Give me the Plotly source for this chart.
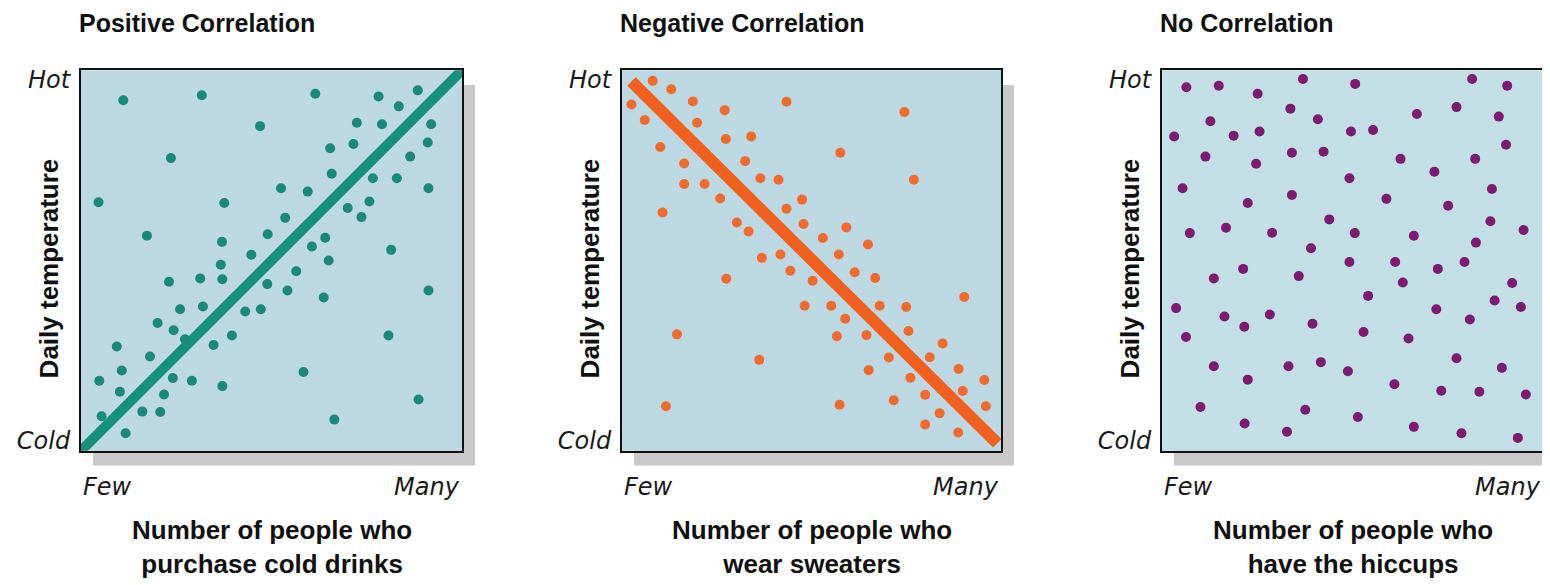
import plotly.graph_objects as go

# page is 1550x585; the html body has an 8px margin, so the figure is 8px smaller
OFF = 8
W, H = 1550 - OFF, 585 - OFF

# ---------------- data (0-100 scale on both axes) ----------------
pos_x = [11.1, 31.7, 61.5, 78.1, 88.4, 83.4, 47.0, 72.4, 79.0, 91.9, 71.5, 65.4, 91.0, 86.4,
         23.6, 65.8, 76.6, 82.9, 91.2, 52.5, 59.5, 4.6, 37.6, 70.0, 75.7, 73.6, 53.6, 17.3,
         49.0, 37.0, 64.1, 60.6, 81.4, 44.7, 65.0, 36.7, 56.5, 23.1, 31.3, 37.1, 48.9, 54.2,
         91.2, 63.7, 26.0, 32.0, 43.1, 47.2, 20.1, 24.3, 27.3, 39.6, 80.7, 34.8, 9.4, 18.1,
         10.7, 58.4, 4.8, 24.1, 29.1, 37.1, 10.2, 21.8, 88.6, 5.4, 16.1, 20.8, 66.5, 11.7]
pos_y = [92.1, 93.4, 93.8, 93.1, 94.7, 90.5, 85.3, 86.2, 85.8, 85.8, 80.6, 79.5, 81.0, 77.3,
         76.9, 72.8, 71.6, 71.6, 69.0, 69.0, 68.1, 65.3, 65.1, 63.8, 65.5, 61.4, 61.2, 56.5,
         56.9, 54.9, 56.0, 53.7, 52.8, 51.5, 50.0, 48.9, 47.2, 44.4, 45.3, 45.1, 43.8, 42.1,
         42.1, 40.3, 37.2, 37.9, 36.6, 37.2, 33.6, 31.7, 29.3, 30.3, 30.3, 27.8, 27.4, 24.8,
         21.1, 20.7, 18.4, 19.1, 18.4, 17.0, 15.5, 14.8, 13.5, 9.1, 10.3, 10.2, 8.2, 4.6]
pos_line_x = [0, 100]
pos_line_y = [0, 100]

neg_x = [8.1, 13.0, 2.5, 18.7, 27.1, 43.4, 6.0, 19.8, 74.5, 27.4, 34.1, 10.1, 57.6, 16.4,
         32.5, 36.5, 41.3, 77.0, 16.4, 21.8, 25.9, 47.5, 10.7, 43.4, 30.3, 33.4, 47.9, 59.2,
         53.0, 64.9, 36.9, 41.8, 57.2, 44.4, 61.4, 66.8, 27.5, 50.3, 90.3, 48.2, 55.2, 68.0,
         75.0, 58.9, 14.5, 56.7, 64.5, 75.6, 84.6, 70.4, 81.2, 36.2, 65.1, 88.8, 76.1, 95.6,
         89.9, 80.0, 71.7, 11.6, 57.4, 96.0, 83.8, 80.0, 88.7]
neg_y = [97.2, 95.0, 91.0, 91.8, 89.5, 91.7, 86.9, 86.2, 89.0, 81.9, 82.6, 79.8, 78.3, 75.5,
         76.1, 71.6, 71.2, 71.2, 70.1, 70.1, 66.3, 66.0, 62.6, 63.6, 60.0, 57.6, 59.6, 58.7,
         55.9, 54.2, 50.7, 51.6, 51.6, 47.3, 46.9, 45.4, 45.2, 44.7, 40.4, 38.1, 38.1, 38.1,
         37.8, 34.7, 30.6, 30.1, 30.4, 31.5, 28.2, 24.5, 24.6, 23.9, 21.2, 21.5, 19.2, 18.6,
         15.7, 14.7, 13.3, 11.7, 12.1, 11.7, 9.9, 6.9, 4.8]
neg_line_x = [2.5, 99]
neg_line_y = [97, 2]

none_x = [6.4, 14.9, 25.1, 37.0, 50.7, 81.4, 90.6, 33.7, 12.7, 40.9, 66.9, 77.3, 88.4, 3.2,
          18.8, 25.6, 49.6, 55.4, 90.3, 11.4, 34.1, 42.4, 62.6, 82.2, 24.7, 71.5, 49.2, 5.4,
          34.1, 86.6, 22.5, 58.9, 75.1, 43.9, 86.2, 7.3, 16.8, 28.9, 50.6, 66.1, 94.9, 82.4,
          39.1, 49.2, 61.2, 79.4, 21.3, 72.4, 13.6, 35.9, 63.2, 91.9, 54.1, 3.7, 16.4, 28.3,
          72.0, 87.3, 94.2, 21.6, 39.5, 80.8, 6.3, 52.9, 64.7, 77.3, 13.6, 33.2, 41.7, 48.8,
          89.2, 22.5, 61.0, 73.3, 83.3, 95.5, 10.1, 37.6, 51.4, 21.7, 32.8, 66.1, 78.6, 93.4]
none_y = [95.5, 95.9, 93.8, 97.7, 96.4, 97.7, 95.9, 89.9, 86.6, 87.1, 88.5, 90.3, 87.8, 82.6,
          82.8, 83.9, 83.9, 84.3, 80.4, 77.3, 78.3, 78.6, 76.7, 76.7, 75.4, 73.3, 71.6, 69.0,
          67.2, 68.8, 65.1, 66.2, 64.4, 60.8, 60.3, 57.2, 58.6, 57.3, 57.2, 56.5, 58.0, 54.7,
          53.2, 49.6, 49.6, 49.6, 47.8, 47.8, 45.3, 45.9, 44.2, 44.1, 40.7, 37.5, 35.3, 35.8,
          37.2, 39.5, 37.8, 32.6, 33.4, 34.5, 29.9, 31.2, 29.5, 24.3, 22.2, 22.2, 23.3, 20.9,
          21.8, 18.7, 17.5, 15.8, 15.5, 14.8, 11.5, 10.8, 8.9, 7.2, 5.0, 6.3, 4.6, 3.4]

titles = ["Positive Correlation", "Negative Correlation", "No Correlation"]
x_titles = ["Number of people who<br>purchase cold drinks",
            "Number of people who<br>wear sweaters",
            "Number of people who<br>have the hiccups"]
y_title = "Daily temperature"
x_ticks = ["Few", "Many"]
y_tick_vals = [2.6, 97.4]
y_ticks = ["Cold", "Hot"]

dot_colors = ["#18897a", "#f26a2c", "#7d1a72"]
line_colors = ["#16917e", "#f2601f", None]
bg_colors = ["#bcd8e3", "#bcd8e3", "#c2dfe6"]

# ---------------- layout geometry (page pixels) ----------------
box_px = [(81, 462), (622, 1001), (1162, 1543)]
top_px, bot_px = 67, 453


def px(x):
    return (x - OFF) / W


def py(y):
    return 1 - (y - OFF) / H


TITLE_FONT = "Liberation Sans"
ITAL = dict(family="DejaVu Sans", size=24, color="#1a1a1a", style="italic")

fig = go.Figure()

panels = [(pos_x, pos_y, pos_line_x, pos_line_y, 10),
          (neg_x, neg_y, neg_line_x, neg_line_y, 12),
          (none_x, none_y, None, None, 0)]

shapes = []
annotations = []
for i, (xs, ys, lx, ly, lw) in enumerate(panels):
    ax = "" if i == 0 else str(i + 1)
    xr, yr = "x" + ax, "y" + ax
    if lx is not None:
        fig.add_trace(go.Scatter(x=lx, y=ly, mode="lines", xaxis=xr, yaxis=yr,
                                 line=dict(color=line_colors[i], width=lw),
                                 showlegend=False, hoverinfo="skip"))
    fig.add_trace(go.Scatter(x=xs, y=ys, mode="markers", xaxis=xr, yaxis=yr,
                             marker=dict(color=dot_colors[i], size=10, line=dict(width=0)),
                             showlegend=False))
    x0p, x1p = box_px[i]
    dom_x = [px(x0p), px(x1p)]
    dom_y = [py(bot_px), py(top_px)]
    fig.update_layout(**{
        "xaxis" + ax: dict(domain=dom_x, range=[0, 100], showgrid=False, zeroline=False,
                           showticklabels=False, ticks="", showline=True, linecolor="#111111",
                           linewidth=2, mirror=True, anchor=yr, fixedrange=True),
        "yaxis" + ax: dict(domain=dom_y, range=[0, 100], showgrid=False, zeroline=False,
                           tickvals=y_tick_vals, ticktext=y_ticks, ticks="",
                           tickfont=ITAL, ticklabelstandoff=4,
                           showline=True, linecolor="#111111", linewidth=2, mirror=True,
                           anchor=xr, fixedrange=True),
    })
    # shadow and background box
    shapes.append(dict(type="rect", xref="paper", yref="paper", layer="below",
                       x0=px(x0p + 12), x1=px(x1p + 13),
                       y0=py(bot_px + 15), y1=py(top_px + 15),
                       fillcolor="#c9c9c9", line=dict(width=0)))
    shapes.append(dict(type="rect", xref="paper", yref="paper", layer="below",
                       x0=dom_x[0], x1=dom_x[1], y0=dom_y[0], y1=dom_y[1],
                       fillcolor=bg_colors[i], line=dict(width=0)))
    # titles
    annotations.append(dict(text="<b>" + titles[i] + "</b>", xref="paper", yref="paper",
                            x=px(x0p - 4), y=py(19), xanchor="left", yanchor="middle",
                            showarrow=False,
                            font=dict(family=TITLE_FONT, size=25, color="#111111")))
    # x tick words
    annotations.append(dict(text=x_ticks[0], xref=xr + " domain", yref="paper", x=0, y=py(490),
                            xanchor="left", yanchor="middle", showarrow=False, font=ITAL))
    annotations.append(dict(text=x_ticks[1], xref=xr + " domain", yref="paper", x=1, y=py(490),
                            xanchor="right", yanchor="middle", showarrow=False, font=ITAL))
    # x axis title
    annotations.append(dict(text="<b>" + x_titles[i] + "</b>", xref=xr + " domain", yref="paper",
                            x=0.5, y=py(551), xanchor="center", yanchor="middle",
                            showarrow=False,
                            font=dict(family=TITLE_FONT, size=26, color="#111111")))
    # y axis title
    annotations.append(dict(text="<b>" + y_title + "</b>", xref="paper", yref="paper",
                            x=px(x0p - 32), y=py(268), xanchor="center", yanchor="middle",
                            textangle=-90, showarrow=False,
                            font=dict(family=TITLE_FONT, size=26, color="#111111")))

fig.update_layout(width=W, height=H, margin=dict(l=0, r=0, t=0, b=0),
                  paper_bgcolor="white", plot_bgcolor="rgba(0,0,0,0)",
                  shapes=shapes, annotations=annotations, showlegend=False)

fig.write_html("out.html")
